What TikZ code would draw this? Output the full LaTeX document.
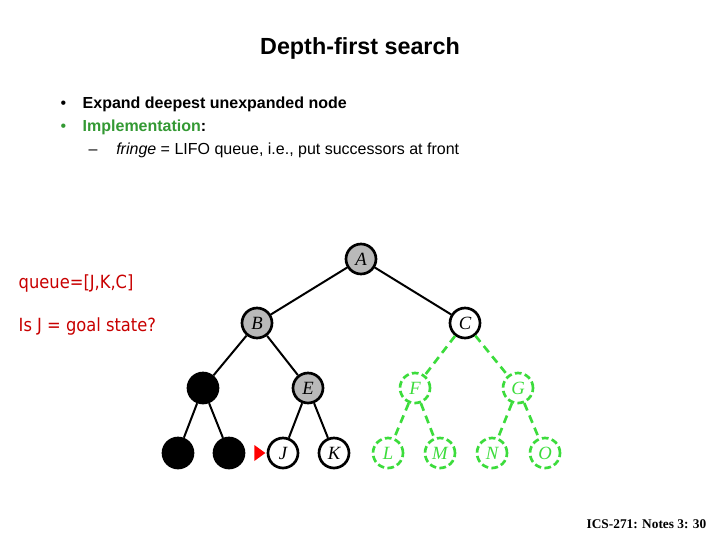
\documentclass[tikz,border=0pt]{standalone}
\usepackage{fontspec}
\setmainfont{Liberation Sans}
\newfontfamily\notesfont{Liberation Serif}
\newfontfamily\queuefont{DejaVu Sans Condensed}
\definecolor{implgreen}{RGB}{51,153,51}
\definecolor{fringegreen}{RGB}{60,220,60}
\definecolor{queuered}{RGB}{200,0,0}
\definecolor{visitgray}{RGB}{185,185,185}
\tikzset{
  tnode/.style={circle,draw=black,line width=2pt,minimum size=22.5pt,inner sep=0pt,
    font=\notesfont\itshape\fontsize{14}{14}\selectfont},
  expanded/.style={tnode,fill=visitgray},
  closed/.style={tnode,fill=black},
  unseen/.style={tnode,draw=fringegreen,text=fringegreen,dash pattern=on 5pt off 2.5pt},
  tedge/.style={line width=1.5pt,black},
  gedge/.style={line width=2pt,fringegreen,dash pattern=on 6pt off 4pt}
}
\begin{document}
\begin{tikzpicture}[x=0.75pt,y=-0.75pt]
  \useasboundingbox (0,0) rectangle (720,540);
  % slide text
  \node[font=\bfseries\fontsize{17.5}{20}\selectfont] (title) at (360,48) {Depth-first search};
  \node[anchor=base west,font=\fontsize{12}{14}\selectfont] (b1) at (56,108) {\textbullet};
  \node[anchor=base west,font=\bfseries\fontsize{12}{14}\selectfont] (t1) at (78,108) {Expand deepest unexpanded node};
  \node[anchor=base west,font=\fontsize{12}{14}\selectfont,text=implgreen] (b2) at (56,131) {\textbullet};
  \node[anchor=base west,font=\bfseries\fontsize{12}{14}\selectfont] (t2) at (78,131) {\textcolor{implgreen}{Implementation}:};
  \node[anchor=base west,font=\fontsize{12}{14}\selectfont] (t3) at (84,154) {--\hspace{14pt}\textit{fringe} = LIFO queue, i.e., put successors at front};
  \node[anchor=base west,text=queuered,font=\queuefont\fontsize{13.6}{15}\selectfont] (queue) at (14,288) {queue=[J,K,C]};
  \node[anchor=base west,text=queuered,font=\queuefont\fontsize{13.6}{15}\selectfont] (goal) at (14,331) {Is J = goal state?};
  \node[anchor=base east,font=\notesfont\bfseries\fontsize{10}{12}\selectfont] (notes) at (711,528) {ICS-271: Notes 3: 30};
  % tree
  \node[expanded] (A) at (361,259) {A};
  \node[expanded] (B) at (257,323) {B};
  \node[tnode] (C) at (465,323) {C};
  \node[closed] (D) at (203,388) {};
  \node[expanded] (E) at (308,388) {E};
  \node[unseen] (F) at (415,388) {F};
  \node[unseen] (G) at (518,388) {G};
  \node[closed] (H) at (178,453) {};
  \node[closed] (I) at (229,453) {};
  \node[tnode] (J) at (283,453) {J};
  \node[tnode] (K) at (334,453) {K};
  \node[unseen] (L) at (388,453) {L};
  \node[unseen] (M) at (440,453) {M};
  \node[unseen] (N) at (492,453) {N};
  \node[unseen] (O) at (545,453) {O};
  \draw[tedge] (A) -- (B);
  \draw[tedge] (A) -- (C);
  \draw[tedge] (B) -- (D);
  \draw[tedge] (B) -- (E);
  \draw[tedge] (D) -- (H);
  \draw[tedge] (D) -- (I);
  \draw[tedge] (E) -- (J);
  \draw[tedge] (E) -- (K);
  \draw[gedge] (C) -- (F);
  \draw[gedge] (C) -- (G);
  \draw[gedge] (F) -- (L);
  \draw[gedge] (F) -- (M);
  \draw[gedge] (G) -- (N);
  \draw[gedge] (G) -- (O);
  % current node marker
  \coordinate (mark) at ([xshift=-1pt]J.west);
  \fill[red] (mark) -- ++(-11,-8) -- ++(0,16) -- cycle;
\end{tikzpicture}
\end{document}
